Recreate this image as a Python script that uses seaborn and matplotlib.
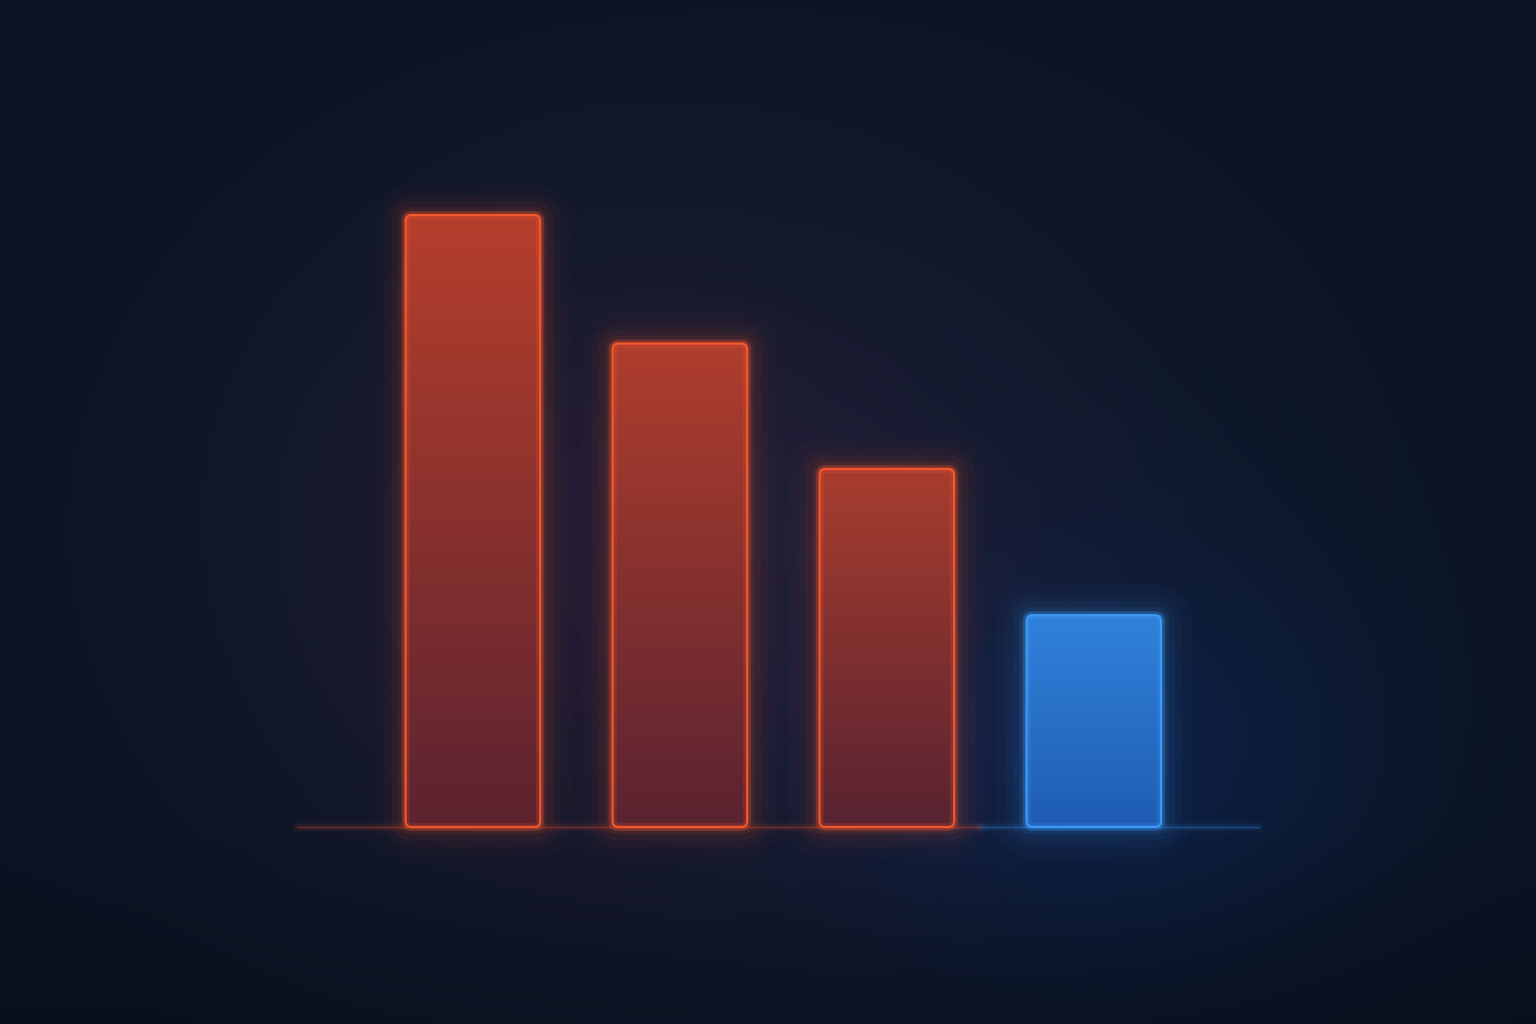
import numpy as np
import pandas as pd
import matplotlib
matplotlib.use('Agg')
import matplotlib.pyplot as plt
import seaborn as sns
from matplotlib.patches import FancyBboxPatch
from matplotlib.colors import to_rgb

categories = ['A', 'B', 'C', 'D']
values = [100, 79, 58.5, 34.6]
fill_top = ['#b63f2c', '#b03e2d', '#a83d2e', '#3182da']
fill_bot = ['#5c2330', '#5a2331', '#582332', '#1f5cb4']
edge_cols = ['#ff5a2c', '#ff5a2c', '#ff5a2c', '#3fa0ff']

sns.set_theme(style='white')
fig = plt.figure(figsize=(15.36, 10.24), dpi=100)

# background with soft glows
bg = fig.add_axes([0, 0, 1, 1])
bg.set_axis_off()
h, w = 512, 768
yy, xx = np.mgrid[0:h, 0:w]
xx = xx / w * 1536
yy = yy / h * 1024
base = np.array(to_rgb('#0e1a2e'))
img = np.ones((h, w, 3)) * base
# vignette
r = np.sqrt(((xx - 768) / 900) ** 2 + ((yy - 500) / 700) ** 2)
img *= (1.05 - 0.3 * np.clip(r, 0, 1))[..., None]
# warm glow
g1 = np.exp(-(((xx - 650) / 360) ** 2 + ((yy - 560) / 320) ** 2))
img += g1[..., None] * np.array([0.085, 0.012, 0.025])
# blue glow
g2 = np.exp(-(((xx - 1100) / 260) ** 2 + ((yy - 760) / 200) ** 2))
img += g2[..., None] * np.array([0.0, 0.035, 0.11])
# darker floor below baseline
floor = np.clip((yy - 830) / 200, 0, 1)
img *= (1 - 0.15 * floor)[..., None]
bg.imshow(np.clip(img, 0, 1), extent=[0, 1, 0, 1], aspect='auto', zorder=0)
bg.set_xlim(0, 1)
bg.set_ylim(0, 1)

ax = fig.add_axes([0.2405, 0.1924, 0.539, 0.5977])
ax.patch.set_alpha(0)
df = pd.DataFrame({'cat': categories, 'val': values})
sns.barplot(data=df, x='cat', y='val', ax=ax, width=0.65, color='#c0432c',
            saturation=1)
ax.set_axis_off()

px_x = 0.539 * 1536 / 4.0
px_y = 0.5977 * 1024 / 100.0
rad = 6 / px_x
aspect = px_x / px_y

patches = list(ax.patches)
for i, p in enumerate(patches):
    x0, y0 = p.get_x(), p.get_y()
    bw, bh = p.get_width(), p.get_height()
    p.set_visible(False)
    style = f'round,pad=0,rounding_size={rad}'
    # outer glow
    for lw, a in [(44, 0.025), (30, 0.035), (20, 0.05), (11, 0.08), (5, 0.15)]:
        ax.add_patch(FancyBboxPatch((x0, y0), bw, bh, boxstyle=style,
                                    mutation_aspect=aspect, fc='none',
                                    ec=edge_cols[i], lw=lw, alpha=a,
                                    clip_on=False, zorder=2))
    # gradient fill
    body = FancyBboxPatch((x0, y0), bw, bh, boxstyle=style,
                          mutation_aspect=aspect, fc='none', ec='none',
                          clip_on=False, zorder=3)
    ax.add_patch(body)
    t = np.linspace(0, 1, 256)[:, None]
    c0 = np.array(to_rgb(fill_top[i]))
    c1 = np.array(to_rgb(fill_bot[i]))
    grad = (c0 * (1 - t) + c1 * t)[:, None, :]
    grad = np.repeat(grad, 8, axis=1)
    im = ax.imshow(grad, extent=[x0, x0 + bw, y0, y0 + bh], aspect='auto',
                   zorder=3, interpolation='bilinear')
    im.set_clip_path(body)
    # inner glow along the edge
    ax.add_patch(FancyBboxPatch((x0, y0), bw, bh, boxstyle=style,
                                mutation_aspect=aspect, fc='none',
                                ec=edge_cols[i], lw=6, alpha=0.18,
                                clip_on=False, zorder=4))
    # crisp edge
    ax.add_patch(FancyBboxPatch((x0, y0), bw, bh, boxstyle=style,
                                mutation_aspect=aspect, fc='none',
                                ec=edge_cols[i], lw=1.6, alpha=0.9,
                                clip_on=False, zorder=4))

ax.set_xlim(-0.5, 3.5)
ax.set_ylim(0, 100)

# glowing baseline
for lw, a in [(8, 0.04), (4, 0.08), (1.0, 0.3)]:
    ax.plot([-0.85, 2.45], [0, 0], color='#ff5a2c', lw=lw, alpha=a,
            clip_on=False, zorder=1, solid_capstyle='round')
    ax.plot([2.45, 3.8], [0, 0], color='#3fa0ff', lw=lw, alpha=a,
            clip_on=False, zorder=1, solid_capstyle='round')

fig.savefig('out.png', dpi=100, facecolor='#0e1a2e')
